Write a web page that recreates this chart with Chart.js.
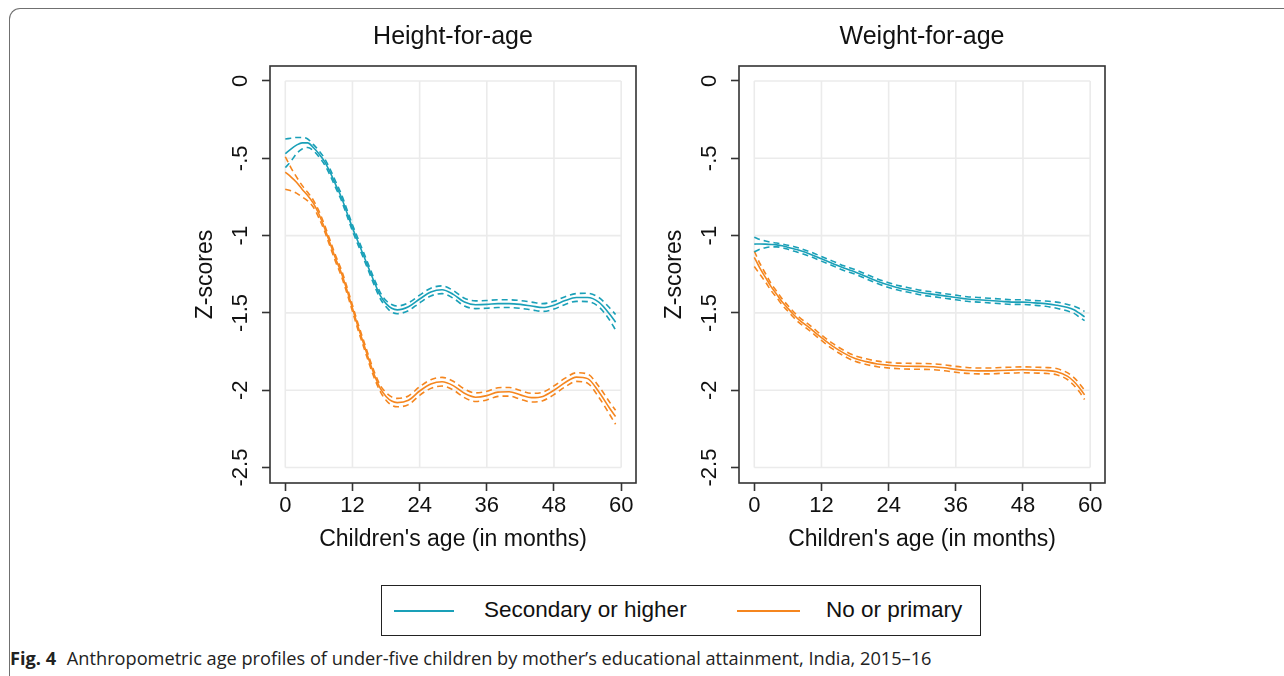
<!DOCTYPE html>
<html>
<head>
<meta charset="utf-8">
<script src="https://cdn.jsdelivr.net/npm/chart.js@4.4.0/dist/chart.umd.min.js"></script>
<style>
  html, body { margin: 0; padding: 0; background: #fff; width: 1284px; height: 676px; overflow: hidden; }
  #frame { position: absolute; left: 9px; top: 8px; width: 1300px; height: 720px; border-left: 1.5px solid #707070; border-top: 1.5px solid #707070; border-radius: 11px 0 0 11px; }
  .cv { position: absolute; top: 0; }
  #c1 { left: 180px; width: 469px; height: 560px; }
  #c2 { left: 649px; width: 470px; height: 560px; }
  #legend { position: absolute; left: 381px; top: 585px; width: 598px; height: 49px; border: 1.5px solid #222; font-family: "Liberation Sans", Arial, sans-serif; font-size: 22.5px; color: #111; }
  .lg-line { position: absolute; top: 24px; height: 2px; }
  .lg-text { position: absolute; top: 11px; line-height: 26px; white-space: nowrap; }
  #caption { position: absolute; left: 10px; top: 645px; font-family: "Open Sans", sans-serif; font-size: 18.2px; line-height: 26px; color: #222; white-space: nowrap; }
  #caption b { font-weight: 700; margin-right: 6px; }
</style>
</head>
<body>
<div id="frame"></div>
<canvas id="c1" class="cv" width="469" height="560"></canvas>
<canvas id="c2" class="cv" width="470" height="560"></canvas>
<div id="legend">
  <div class="lg-line" style="left:12px;width:60px;background:#1aa0b8"></div>
  <div class="lg-text" style="left:102px">Secondary or higher</div>
  <div class="lg-line" style="left:355px;width:63px;background:#f5861f"></div>
  <div class="lg-text" style="left:444px">No or primary</div>
</div>
<div id="caption"><b>Fig. 4</b> Anthropometric age profiles of under-five children by mother’s educational attainment, India, 2015–16</div>
<script>
// ---------- DATA ----------
const panelTitles = ["Height-for-age", "Weight-for-age"];
const seriesNames = ["Secondary or higher", "No or primary"];
const xTickLabels = [0, 12, 24, 36, 48, 60];
const yTickLabels = [0, -0.5, -1, -1.5, -2, -2.5];

const monthsHAZ = [0,1,2,3,4,5,6,7,8,9,10,11,12,13,14,15,16,17,18,19,20,22,24,26,28,30,32,34,36,38,40,42,44,46,48,50,52,54,56,58,59];
const hazSecondary = [-0.47,-0.44,-0.415,-0.40,-0.40,-0.43,-0.47,-0.52,-0.59,-0.67,-0.75,-0.85,-0.95,-1.04,-1.13,-1.22,-1.31,-1.39,-1.44,-1.47,-1.48,-1.46,-1.41,-1.365,-1.35,-1.38,-1.43,-1.447,-1.445,-1.44,-1.44,-1.445,-1.455,-1.465,-1.45,-1.42,-1.40,-1.40,-1.43,-1.51,-1.56];
const hazSecondaryHi = [-0.375,-0.37,-0.365,-0.365,-0.375,-0.41,-0.45,-0.50,-0.57,-0.65,-0.73,-0.83,-0.93,-1.02,-1.11,-1.20,-1.29,-1.37,-1.42,-1.445,-1.455,-1.435,-1.385,-1.34,-1.325,-1.355,-1.405,-1.422,-1.42,-1.415,-1.415,-1.42,-1.43,-1.44,-1.425,-1.395,-1.375,-1.373,-1.40,-1.47,-1.51];
const hazSecondaryLo = [-0.56,-0.52,-0.47,-0.44,-0.43,-0.45,-0.49,-0.54,-0.61,-0.69,-0.77,-0.87,-0.97,-1.06,-1.15,-1.24,-1.33,-1.41,-1.46,-1.495,-1.505,-1.485,-1.435,-1.39,-1.375,-1.405,-1.455,-1.472,-1.47,-1.465,-1.465,-1.47,-1.48,-1.49,-1.475,-1.445,-1.425,-1.427,-1.46,-1.55,-1.61];
const hazPrimary = [-0.59,-0.62,-0.655,-0.70,-0.74,-0.79,-0.86,-0.95,-1.05,-1.15,-1.24,-1.35,-1.47,-1.59,-1.70,-1.81,-1.91,-1.99,-2.04,-2.07,-2.08,-2.065,-2.005,-1.96,-1.945,-1.97,-2.02,-2.045,-2.035,-2.012,-2.01,-2.03,-2.048,-2.04,-2.00,-1.95,-1.915,-1.925,-2.01,-2.12,-2.17];
const hazPrimaryHi = [-0.49,-0.56,-0.62,-0.675,-0.72,-0.77,-0.84,-0.93,-1.03,-1.13,-1.22,-1.33,-1.45,-1.57,-1.68,-1.79,-1.89,-1.97,-2.015,-2.043,-2.053,-2.037,-1.977,-1.932,-1.917,-1.942,-1.992,-2.017,-2.007,-1.984,-1.982,-2.002,-2.02,-2.012,-1.972,-1.922,-1.887,-1.895,-1.975,-2.08,-2.13];
const hazPrimaryLo = [-0.70,-0.71,-0.725,-0.75,-0.775,-0.815,-0.885,-0.97,-1.07,-1.17,-1.26,-1.37,-1.49,-1.61,-1.72,-1.83,-1.93,-2.01,-2.065,-2.097,-2.107,-2.093,-2.033,-1.988,-1.973,-1.998,-2.048,-2.073,-2.063,-2.04,-2.038,-2.058,-2.076,-2.068,-2.028,-1.978,-1.943,-1.955,-2.045,-2.16,-2.22];

const monthsWAZ = [0,1,2,3,4,5,6,7,8,10,12,14,16,18,20,22,24,26,28,30,32,34,36,38,40,42,44,46,48,50,52,54,56,57,58,59];
const wazSecondary = [-1.055,-1.054,-1.055,-1.057,-1.06,-1.066,-1.075,-1.085,-1.095,-1.12,-1.15,-1.18,-1.21,-1.235,-1.265,-1.295,-1.32,-1.34,-1.355,-1.37,-1.38,-1.39,-1.40,-1.41,-1.415,-1.42,-1.425,-1.43,-1.43,-1.435,-1.44,-1.45,-1.465,-1.478,-1.50,-1.525];
const wazSecondaryHi = [-1.01,-1.025,-1.035,-1.043,-1.048,-1.055,-1.062,-1.07,-1.08,-1.105,-1.135,-1.165,-1.195,-1.22,-1.25,-1.28,-1.305,-1.325,-1.34,-1.355,-1.365,-1.375,-1.385,-1.395,-1.40,-1.405,-1.41,-1.415,-1.415,-1.42,-1.423,-1.43,-1.445,-1.455,-1.47,-1.49];
const wazSecondaryLo = [-1.105,-1.088,-1.078,-1.073,-1.073,-1.078,-1.088,-1.10,-1.11,-1.135,-1.165,-1.195,-1.225,-1.25,-1.28,-1.31,-1.335,-1.355,-1.37,-1.385,-1.395,-1.405,-1.415,-1.425,-1.43,-1.435,-1.44,-1.445,-1.445,-1.45,-1.457,-1.47,-1.488,-1.50,-1.525,-1.55];
const wazPrimary = [-1.14,-1.21,-1.27,-1.33,-1.38,-1.43,-1.47,-1.51,-1.545,-1.60,-1.66,-1.715,-1.76,-1.795,-1.815,-1.83,-1.838,-1.843,-1.845,-1.846,-1.848,-1.855,-1.865,-1.872,-1.875,-1.875,-1.872,-1.87,-1.868,-1.87,-1.872,-1.88,-1.91,-1.94,-1.98,-2.03];
const wazPrimaryHi = [-1.10,-1.18,-1.245,-1.31,-1.36,-1.41,-1.452,-1.492,-1.527,-1.582,-1.642,-1.697,-1.742,-1.777,-1.797,-1.812,-1.82,-1.825,-1.826,-1.827,-1.829,-1.836,-1.846,-1.853,-1.856,-1.856,-1.853,-1.851,-1.849,-1.851,-1.853,-1.86,-1.888,-1.915,-1.953,-2.0];
const wazPrimaryLo = [-1.20,-1.25,-1.30,-1.355,-1.40,-1.45,-1.488,-1.528,-1.563,-1.618,-1.678,-1.733,-1.778,-1.813,-1.833,-1.848,-1.856,-1.861,-1.864,-1.865,-1.867,-1.874,-1.884,-1.891,-1.894,-1.894,-1.891,-1.889,-1.887,-1.889,-1.891,-1.90,-1.932,-1.965,-2.007,-2.06];

// ---------- STYLE ----------
const TEAL = "#1aa0b8";
const ORANGE = "#f5861f";
const AXIS = "#333333";
const GRID = "#ebebeb";
const FONT = "'Liberation Sans', Arial, sans-serif";

function pts(xs, ys) { return xs.map((x, i) => ({ x: x, y: ys[i] })); }

function ds(label, xs, ys, color, dashed) {
  return {
    label: label,
    data: pts(xs, ys),
    borderColor: color,
    borderWidth: 1.6,
    borderDash: dashed ? [6, 4] : [],
    pointRadius: 0,
    fill: false,
    cubicInterpolationMode: 'monotone'
  };
}

const innerGrid = {
  id: 'innerGrid',
  beforeDatasetsDraw(chart) {
    const { ctx } = chart;
    const xs = chart.scales.x, ys = chart.scales.y;
    const x0 = xs.getPixelForValue(xTickLabels[0]), x1 = xs.getPixelForValue(xTickLabels[xTickLabels.length - 1]);
    const y0 = ys.getPixelForValue(yTickLabels[0]), y1 = ys.getPixelForValue(yTickLabels[yTickLabels.length - 1]);
    ctx.save();
    ctx.strokeStyle = GRID;
    ctx.lineWidth = 1.6;
    ctx.beginPath();
    xTickLabels.forEach(v => { const p = xs.getPixelForValue(v); ctx.moveTo(p, y0); ctx.lineTo(p, y1); });
    yTickLabels.forEach(v => { const p = ys.getPixelForValue(v); ctx.moveTo(x0, p); ctx.lineTo(x1, p); });
    ctx.stroke();
    ctx.restore();
  },
  afterDraw(chart) {
    const { ctx, chartArea: a } = chart;
    ctx.save();
    ctx.strokeStyle = AXIS;
    ctx.lineWidth = 1.6;
    ctx.strokeRect(a.left, a.top, a.right - a.left, a.bottom - a.top);
    ctx.restore();
  }
};

function makeChart(id, title, months, sec, secHi, secLo, pri, priHi, priLo) {
  return new Chart(document.getElementById(id), {
    type: 'line',
    data: {
      datasets: [
        ds(seriesNames[0], months, sec, TEAL, false),
        ds(seriesNames[0] + " upper", months, secHi, TEAL, true),
        ds(seriesNames[0] + " lower", months, secLo, TEAL, true),
        ds(seriesNames[1], months, pri, ORANGE, false),
        ds(seriesNames[1] + " upper", months, priHi, ORANGE, true),
        ds(seriesNames[1] + " lower", months, priLo, ORANGE, true)
      ]
    },
    options: {
      responsive: false,
      animation: false,
      events: [],
      layout: { padding: { left: 0, right: id === 'c1' ? 13 : 14, top: 0, bottom: 0 } },
      plugins: {
        legend: { display: false },
        tooltip: { enabled: false },
        title: {
          display: true,
          text: title,
          fullSize: false,
          color: '#111',
          font: { family: FONT, size: 25, weight: 'normal', lineHeight: 1.2 },
          padding: { top: 22, bottom: 14 }
        }
      },
      scales: {
        x: {
          type: 'linear',
          min: -2.73,
          max: 62.65,
          afterBuildTicks: s => { s.ticks = xTickLabels.map(v => ({ value: v })); },
          afterFit: s => { s.height = 77; },
          border: { display: false },
          grid: { display: true, drawOnChartArea: false, drawTicks: true, tickLength: 8, tickColor: AXIS, tickWidth: 1.6 },
          ticks: { color: '#111', font: { family: FONT, size: 22 }, padding: 2, maxRotation: 0, minRotation: 0, autoSkip: false },
          title: { display: true, text: "Children's age (in months)", color: '#111', font: { family: FONT, size: 23, lineHeight: 1.2 }, padding: { top: 0, bottom: 7 } }
        },
        y: {
          type: 'linear',
          min: -2.6,
          max: 0.097,
          afterBuildTicks: s => { s.ticks = yTickLabels.map(v => ({ value: v })); },
          afterFit: s => { s.width = 90; },
          border: { display: false },
          grid: { display: true, drawOnChartArea: false, drawTicks: true, tickLength: 8, tickColor: AXIS, tickWidth: 1.6 },
          ticks: {
            color: '#111', font: { family: FONT, size: 22 }, padding: 2,
            minRotation: 90, maxRotation: 90, crossAlign: 'center', autoSkip: false,
            callback: v => (v === 0 ? '0' : String(v).replace('0.', '.'))
          },
          title: { display: true, text: 'Z-scores', color: '#111', font: { family: FONT, size: 23, lineHeight: 1.2 }, padding: { top: 12, bottom: 0 } }
        }
      }
    },
    plugins: [innerGrid]
  });
}

makeChart('c1', panelTitles[0], monthsHAZ, hazSecondary, hazSecondaryHi, hazSecondaryLo, hazPrimary, hazPrimaryHi, hazPrimaryLo);
makeChart('c2', panelTitles[1], monthsWAZ, wazSecondary, wazSecondaryHi, wazSecondaryLo, wazPrimary, wazPrimaryHi, wazPrimaryLo);
</script>
</body>
</html>
